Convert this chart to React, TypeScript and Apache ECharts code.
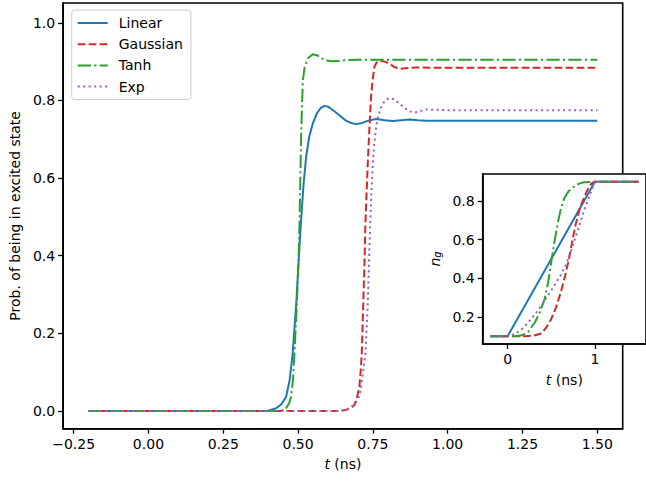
import React, { useEffect, useRef } from "react";
import * as echarts from "echarts";

// ---- data ----
const seriesNames = ["Linear", "Gaussian", "Tanh", "Exp"];
const colors = ["#1f77b4", "#d62728", "#2ca02c", "#9467bd"];

const linearProb: number[][] = [
  [-0.2, 0], [0.38, 0], [0.4, 0.001], [0.427, 0.007], [0.445, 0.018], [0.46, 0.037],
  [0.472, 0.08], [0.482, 0.148], [0.494, 0.277], [0.503, 0.4], [0.51, 0.49],
  [0.518, 0.58], [0.527, 0.655], [0.537, 0.705], [0.549, 0.74], [0.563, 0.767],
  [0.575, 0.78], [0.588, 0.786], [0.6, 0.784], [0.615, 0.776], [0.638, 0.762],
  [0.66, 0.748], [0.68, 0.741], [0.695, 0.739], [0.71, 0.741], [0.735, 0.748],
  [0.761, 0.752], [0.79, 0.749], [0.817, 0.747], [0.845, 0.749], [0.872, 0.751],
  [0.9, 0.749], [0.93, 0.748], [1.0, 0.748], [1.5, 0.748],
];
const gaussianProb: number[][] = [
  [-0.2, 0], [0.64, 0], [0.661, 0.003], [0.675, 0.007], [0.688, 0.015], [0.697, 0.035],
  [0.705, 0.063], [0.709, 0.1], [0.713, 0.148], [0.718, 0.277], [0.722, 0.38],
  [0.725, 0.48], [0.729, 0.56], [0.733, 0.638], [0.738, 0.72], [0.744, 0.809],
  [0.749, 0.85], [0.755, 0.886], [0.762, 0.897], [0.772, 0.902], [0.79, 0.9],
  [0.805, 0.895], [0.82, 0.887], [0.839, 0.881], [0.86, 0.883], [0.895, 0.885],
  [0.95, 0.884], [1.5, 0.884],
];
const tanhProb: number[][] = [
  [-0.2, 0], [0.43, 0], [0.455, 0.003], [0.46, 0.007], [0.47, 0.02], [0.477, 0.037],
  [0.483, 0.08], [0.488, 0.149], [0.496, 0.277], [0.502, 0.4], [0.505, 0.49],
  [0.51, 0.698], [0.513, 0.78], [0.516, 0.852], [0.522, 0.885], [0.532, 0.908],
  [0.549, 0.919], [0.565, 0.916], [0.58, 0.908], [0.594, 0.903], [0.616, 0.901],
  [0.638, 0.902], [0.66, 0.904], [0.7, 0.905], [1.5, 0.905],
];
const expProb: number[][] = [
  [-0.2, 0], [0.64, 0], [0.672, 0.007], [0.685, 0.015], [0.7, 0.028], [0.708, 0.05],
  [0.714, 0.08], [0.72, 0.115], [0.725, 0.148], [0.729, 0.21], [0.733, 0.277],
  [0.737, 0.38], [0.741, 0.479], [0.745, 0.56], [0.75, 0.638], [0.755, 0.69],
  [0.761, 0.732], [0.768, 0.76], [0.778, 0.783], [0.79, 0.8], [0.805, 0.806],
  [0.82, 0.803], [0.839, 0.792], [0.855, 0.781], [0.872, 0.772], [0.89, 0.769],
  [0.906, 0.772], [0.928, 0.777], [0.95, 0.776], [1.0, 0.775], [1.5, 0.775],
];

const linearNg: number[][] = [[-0.2, 0.1], [0, 0.1], [1, 0.9], [1.5, 0.9]];
const gaussianNg: number[][] = [
  [-0.2, 0.1], [0, 0.1], [0.204, 0.1], [0.3, 0.104], [0.389, 0.114], [0.45, 0.15],
  [0.5, 0.19], [0.555, 0.25], [0.611, 0.33], [0.66, 0.415], [0.704, 0.503],
  [0.74, 0.59], [0.778, 0.676], [0.82, 0.75], [0.871, 0.814], [0.92, 0.862],
  [0.963, 0.892], [1.0, 0.9], [1.5, 0.9],
];
const tanhNg: number[][] = [
  [-0.2, 0.1], [0, 0.1], [0.1, 0.101], [0.167, 0.105], [0.24, 0.125], [0.315, 0.174],
  [0.37, 0.225], [0.426, 0.295], [0.465, 0.38], [0.5, 0.485], [0.537, 0.59],
  [0.574, 0.684], [0.61, 0.76], [0.649, 0.814], [0.7, 0.852], [0.76, 0.874],
  [0.82, 0.89], [0.871, 0.897], [1.0, 0.9], [1.5, 0.9],
];
const expNg: number[][] = [
  [-0.2, 0.1], [0, 0.1], [0.093, 0.114], [0.17, 0.14], [0.241, 0.174], [0.315, 0.215],
  [0.389, 0.26], [0.46, 0.31], [0.537, 0.364], [0.6, 0.41], [0.667, 0.468],
  [0.715, 0.525], [0.76, 0.589], [0.82, 0.67], [0.871, 0.745], [0.92, 0.805],
  [0.963, 0.857], [1.0, 0.9], [1.5, 0.9],
];

const mainXTicks = [-0.25, 0, 0.25, 0.5, 0.75, 1.0, 1.25, 1.5];
const mainYTicks = [0, 0.2, 0.4, 0.6, 0.8, 1.0];
const insetXTicks = [0, 1];
const insetYTicks = [0.2, 0.4, 0.6, 0.8];

const probData = [linearProb, gaussianProb, tanhProb, expProb];
const ngData = [linearNg, gaussianNg, tanhNg, expNg];
const dashes: any[] = ["solid", [7.7, 3.3], [13.3, 3.3, 2.1, 3.3], [2.1, 3.4]];

const FONT = "DejaVu Sans";

export default function App() {
  const ref = useRef<HTMLDivElement>(null);
  useEffect(() => {
    if (!ref.current) return;
    const chart = echarts.init(ref.current, undefined, { renderer: "svg" });
    const axisLineStyle = { color: "#000", width: 1.6 };
    const tickStyle = { color: "#000", width: 1.3 };
    const fmtX = (v: number) => (v < 0 ? "\u2212" + Math.abs(v).toFixed(2) : v.toFixed(2));
    const labelStyle = { color: "#000", fontSize: 14, fontFamily: FONT };
    const series: any[] = [];
    seriesNames.forEach((name, i) => {
      series.push({
        name,
        type: "line",
        xAxisIndex: 0,
        yAxisIndex: 0,
        data: probData[i],
        symbol: "none",
        showSymbol: false,
        smooth: false,
        z: 2,
        lineStyle: { color: colors[i], width: 2, type: dashes[i], cap: "butt" },
        itemStyle: { color: colors[i] },
      });
    });
    seriesNames.forEach((name, i) => {
      series.push({
        name: name + " ng",
        type: "line",
        xAxisIndex: 1,
        yAxisIndex: 1,
        data: ngData[i],
        symbol: "none",
        showSymbol: false,
        smooth: false,
        z: 7,
        lineStyle: { color: colors[i], width: 2, type: dashes[i], cap: "butt" },
        itemStyle: { color: colors[i] },
      });
    });
    const axisLine = { show: true, onZero: false, lineStyle: axisLineStyle };
    chart.setOption({
      animation: false,
      backgroundColor: "#fff",
      textStyle: { fontFamily: FONT },
      grid: [
        {
          left: 63, top: 3, width: 559.7, height: 425.7,
          show: true, borderColor: "#000", borderWidth: 1.6, backgroundColor: "#fff", z: 0,
        },
        {
          left: 482.7, top: 174, width: 168.3, height: 170,
          show: true, borderColor: "#000", borderWidth: 1.6, backgroundColor: "#fff", z: 5,
        },
      ],
      legend: {
        data: seriesNames,
        orient: "vertical",
        left: 71.7,
        top: 10,
        padding: [6, 8, 6, 5],
        itemWidth: 30,
        itemHeight: 14,
        itemGap: 7.2,
        backgroundColor: "rgba(255,255,255,0.8)",
        borderColor: "#cccccc",
        borderWidth: 1,
        borderRadius: 3,
        z: 10,
        itemStyle: { opacity: 0 },
        textStyle: { color: "#000", fontSize: 14, fontFamily: FONT, padding: [0, 0, 0, 6], lineHeight: 14 },
      },
      xAxis: [
        {
          type: "value", gridIndex: 0, min: -0.285, max: 1.585, z: 1,
          name: "{i|t} (ns)", nameLocation: "middle", nameGap: 28,
          nameTextStyle: { color: "#000", fontSize: 14, fontFamily: FONT, rich: { i: { fontStyle: "italic", fontSize: 14, fontFamily: FONT } } },
          axisLine,
          axisTick: { show: true, length: 5, lineStyle: tickStyle, customValues: mainXTicks },
          axisLabel: { ...labelStyle, margin: 8, customValues: mainXTicks, formatter: fmtX },
          splitLine: { show: false },
        },
        {
          type: "value", gridIndex: 1, min: -0.285, max: 1.585, z: 6,
          name: "{i|t} (ns)", nameLocation: "middle", nameGap: 29,
          nameTextStyle: { color: "#000", fontSize: 14, fontFamily: FONT, rich: { i: { fontStyle: "italic", fontSize: 14, fontFamily: FONT } } },
          axisLine,
          axisTick: { show: true, length: 5, lineStyle: tickStyle, customValues: insetXTicks },
          axisLabel: { ...labelStyle, margin: 8, customValues: insetXTicks, formatter: (v: number) => String(Math.round(v)) },
          splitLine: { show: false },
        },
      ],
      yAxis: [
        {
          type: "value", gridIndex: 0, min: -0.0455, max: 1.051, z: 1,
          name: "Prob. of being in excited state", nameLocation: "middle", nameGap: 40,
          nameTextStyle: { color: "#000", fontSize: 14, fontFamily: FONT },
          axisLine,
          axisTick: { show: true, length: 5, lineStyle: tickStyle, customValues: mainYTicks },
          axisLabel: { ...labelStyle, margin: 8, customValues: mainYTicks, formatter: (v: number) => v.toFixed(1) },
          splitLine: { show: false },
        },
        {
          type: "value", gridIndex: 1, min: 0.06, max: 0.94, z: 6,
          name: "{i|n}{s|g}", nameLocation: "middle", nameGap: 40,
          nameTextStyle: {
            color: "#000", fontSize: 14, fontFamily: FONT,
            rich: {
              i: { fontStyle: "italic", fontSize: 14, fontFamily: FONT },
              s: { fontStyle: "italic", fontSize: 10, fontFamily: FONT, padding: [6, 0, 0, 0] },
            },
          },
          axisLine,
          axisTick: { show: true, length: 5, lineStyle: tickStyle, customValues: insetYTicks },
          axisLabel: { ...labelStyle, margin: 8, customValues: insetYTicks, formatter: (v: number) => v.toFixed(1) },
          splitLine: { show: false },
        },
      ],
      series,
    });
    return () => chart.dispose();
  }, []);
  return <div ref={ref} style={{ position: "absolute", left: 0, top: 0, width: 646, height: 481 }} />;
}
